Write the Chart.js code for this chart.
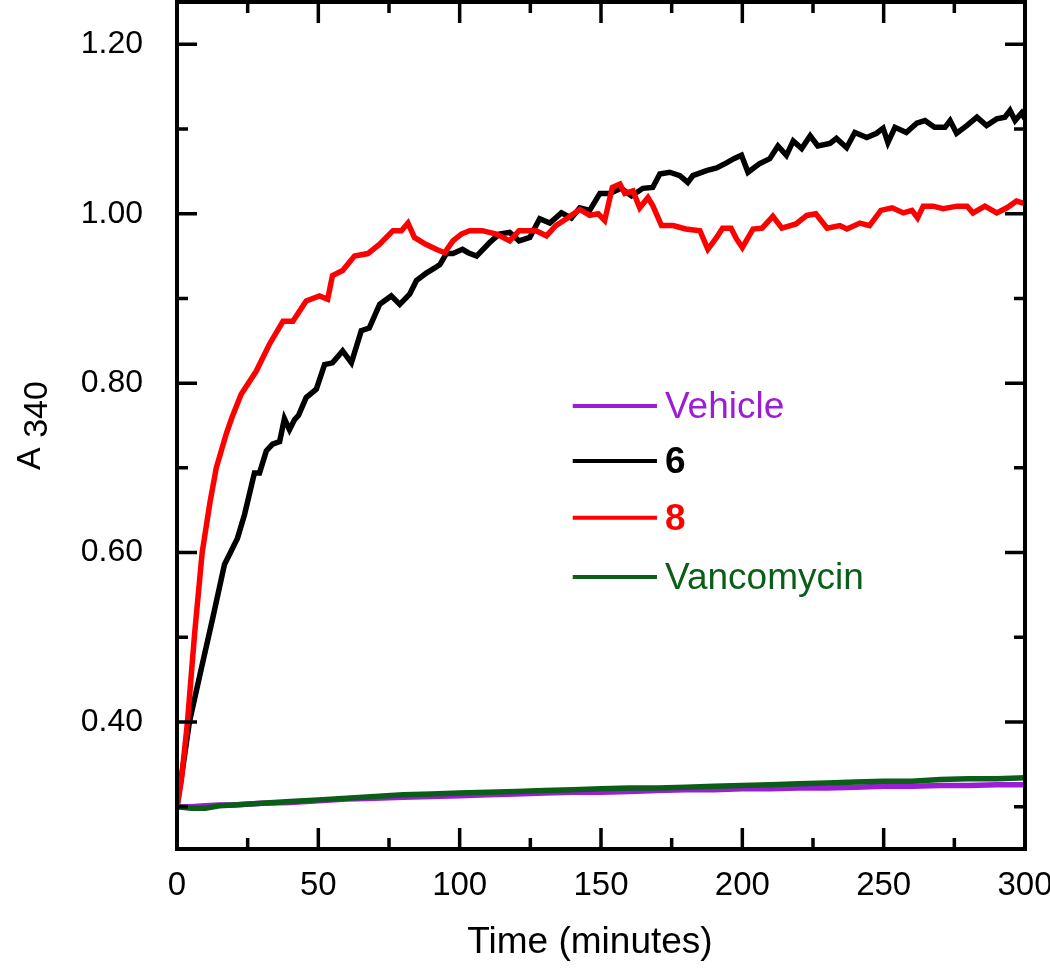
<!DOCTYPE html>
<html>
<head>
<meta charset="utf-8">
<script src="https://cdn.jsdelivr.net/npm/chart.js@4.4.1/dist/chart.umd.min.js"></script>
<style>
    html, body { margin: 0; padding: 0; background: #fff; }
    #wrap { width: 1050px; height: 968px; }
</style>
</head>
<body>
<div id="wrap"><canvas id="chart" width="1050" height="968"></canvas></div>
<script>
// Tick positions
const xMajor = [0, 50, 100, 150, 200, 250, 300];
const xMinor = [25, 75, 125, 175, 225, 275];
const yMajor = [0.40, 0.60, 0.80, 1.00, 1.20];
const yMinor = [0.30, 0.50, 0.70, 0.90, 1.10];

// Series: compound 6 (black)
const time6 = [0, 2, 4.4, 8.6, 12.6, 16.8, 18.6, 21.4, 23.9, 27.4,
    29.2, 31.6, 33.8, 36.3, 38, 39.8, 41.6, 43, 45.7, 49.3,
    52.2, 55, 58.6, 61.7, 65.2, 68, 71.7, 75.8, 78.8, 82.3,
    84.7, 88.2, 91.2, 93, 95.3, 97.6, 101, 103, 106, 110.6,
    114, 117.7, 121, 124.8, 128.3, 131.9, 136, 139.5, 142.5, 146,
    149.6, 153, 157.2, 160.8, 164.8, 168.3, 170.8, 174.3, 177.9, 180.7,
    182.5, 187.3, 190.9, 194.4, 197, 199.7, 202, 206, 209.7, 212.6,
    215.6, 218, 221, 224, 226.7, 231, 233.3, 236.9, 239.8, 244,
    247.5, 249.8, 251.5, 254, 258, 261.7, 264.6, 268, 271.7, 273.5,
    275.8, 279.4, 283, 286.4, 290, 292.9, 294.7, 296.5, 298.8, 300];
const abs6 = [0.300, 0.345, 0.400, 0.463, 0.522, 0.586, 0.598, 0.617, 0.645, 0.694,
    0.694, 0.720, 0.728, 0.731, 0.758, 0.745, 0.757, 0.762, 0.783, 0.793,
    0.822, 0.824, 0.838, 0.824, 0.862, 0.865, 0.893, 0.903, 0.893, 0.905,
    0.921, 0.930, 0.936, 0.940, 0.953, 0.953, 0.958, 0.954, 0.950, 0.966,
    0.976, 0.978, 0.968, 0.972, 0.994, 0.989, 1.001, 0.995, 1.007, 1.004,
    1.024, 1.024, 1.030, 1.021, 1.030, 1.031, 1.047, 1.049, 1.045, 1.037,
    1.045, 1.051, 1.054, 1.060, 1.065, 1.069, 1.049, 1.059, 1.065, 1.080,
    1.069, 1.086, 1.077, 1.092, 1.080, 1.083, 1.089, 1.078, 1.096, 1.090,
    1.095, 1.101, 1.084, 1.102, 1.096, 1.107, 1.110, 1.102, 1.102, 1.110,
    1.095, 1.104, 1.114, 1.104, 1.112, 1.114, 1.122, 1.110, 1.119, 1.112];

// Series: compound 8 (red)
const time8 = [0, 1.5, 3.7, 6.2, 8.9, 11.7, 13.9, 17.4, 19.5, 22.7,
    28, 32.7, 37.5, 41, 45.7, 50.4, 53.3, 55, 58.6, 62.8,
    67.5, 71.7, 76.4, 79.4, 81.7, 84, 88, 91.7, 94.7, 97.6,
    100.6, 103.5, 108, 113, 117.7, 121, 127, 130.7, 134, 137.8,
    142.5, 146, 149, 151.3, 154, 156.7, 158.4, 161.3, 163.7, 166.6,
    168.4, 171.4, 175.5, 180, 185, 187.8, 190.9, 193, 196, 198,
    200, 203.8, 207, 210.8, 214, 219, 222.8, 226, 230, 234.5,
    237, 241.6, 245, 249, 253, 257, 260, 262, 264, 267.5,
    271, 276, 279.5, 281.6, 285.8, 290, 293.6, 297, 300];
const abs8 = [0.300, 0.330, 0.400, 0.503, 0.600, 0.660, 0.700, 0.740, 0.760, 0.787,
    0.814, 0.846, 0.873, 0.873, 0.897, 0.903, 0.899, 0.927, 0.933, 0.950,
    0.953, 0.964, 0.980, 0.980, 0.989, 0.972, 0.964, 0.958, 0.954, 0.968,
    0.976, 0.980, 0.980, 0.976, 0.968, 0.980, 0.980, 0.974, 0.986, 0.994,
    1.005, 0.998, 1.000, 0.992, 1.031, 1.035, 1.024, 1.027, 1.007, 1.019,
    1.009, 0.986, 0.986, 0.982, 0.980, 0.958, 0.972, 0.983, 0.983, 0.970,
    0.960, 0.982, 0.983, 0.997, 0.983, 0.988, 0.998, 1.000, 0.983, 0.986,
    0.982, 0.989, 0.986, 1.004, 1.007, 1.001, 1.004, 0.995, 1.009, 1.009,
    1.006, 1.009, 1.009, 1.001, 1.009, 1.001, 1.007, 1.015, 1.012];

// Series: vehicle and vancomycin (nearly flat)
const timeFlat = [0, 5, 10, 15, 20, 30, 40, 50, 60, 70, 80, 90, 100, 110, 120, 130, 140,
    150, 160, 170, 180, 190, 200, 210, 220, 230, 240, 250, 260, 270, 280, 290, 300];
const absVehicle = [0.300, 0.300, 0.301, 0.302, 0.302, 0.304, 0.305, 0.307, 0.309, 0.310, 0.311,
    0.312, 0.313, 0.314, 0.315, 0.316, 0.317, 0.317, 0.318, 0.319, 0.320, 0.320, 0.321,
    0.321, 0.322, 0.322, 0.323, 0.324, 0.324, 0.325, 0.325, 0.326, 0.326];
const absVanco = [0.300, 0.298, 0.298, 0.301, 0.302, 0.304, 0.306, 0.308, 0.310, 0.312, 0.314,
    0.315, 0.316, 0.317, 0.318, 0.319, 0.320, 0.321, 0.322, 0.322, 0.323, 0.324, 0.325,
    0.326, 0.327, 0.328, 0.329, 0.330, 0.330, 0.332, 0.333, 0.333, 0.334];

const PURPLE = '#9b1ed6';
const GREEN = '#0b5e17';
const RED = '#ff0000';
const BLACK = '#000000';
const FONT = '"Liberation Sans", Arial, Helvetica, sans-serif';

const pts = (xs, ys) => xs.map((x, i) => ({ x: x, y: ys[i] }));

// legend entries, placed in data units inside the plot
const legendItems = [
    { text: 'Vehicle', color: PURPLE, bold: false, y: 0.773 },
    { text: '6', color: BLACK, bold: true, y: 0.708 },
    { text: '8', color: RED, bold: true, y: 0.641 },
    { text: 'Vancomycin', color: GREEN, bold: false, y: 0.571 }
];

const framePlugin = {
    id: 'frame',
    afterDatasetsDraw(chart) {
        const { ctx, chartArea: a, scales: { x, y } } = chart;
        ctx.save();
        ctx.strokeStyle = '#000';
        ctx.lineWidth = 4;
        ctx.strokeRect(a.left, a.top, a.right - a.left, a.bottom - a.top);

        // inward ticks on all four sides
        ctx.lineWidth = 3.5;
        ctx.beginPath();
        const xt = (v, len) => {
            const px = x.getPixelForValue(v);
            ctx.moveTo(px, a.bottom); ctx.lineTo(px, a.bottom - len);
            ctx.moveTo(px, a.top); ctx.lineTo(px, a.top + len);
        };
        const yt = (v, len) => {
            const py = y.getPixelForValue(v);
            ctx.moveTo(a.left, py); ctx.lineTo(a.left + len, py);
            ctx.moveTo(a.right, py); ctx.lineTo(a.right - len, py);
        };
        xMajor.forEach(v => xt(v, 21));
        xMinor.forEach(v => xt(v, 11));
        yMajor.forEach(v => yt(v, 20));
        yMinor.forEach(v => yt(v, 11));
        ctx.stroke();

        // legend
        const lx0 = x.getPixelForValue(140);
        const lx1 = x.getPixelForValue(169.8);
        legendItems.forEach(it => {
            const py = y.getPixelForValue(it.y);
            ctx.strokeStyle = it.color;
            ctx.lineWidth = 4;
            ctx.beginPath();
            ctx.moveTo(lx0, py); ctx.lineTo(lx1, py);
            ctx.stroke();
            ctx.fillStyle = it.color;
            ctx.font = (it.bold ? 'bold ' : '') + '37px ' + FONT;
            ctx.textAlign = 'left';
            ctx.textBaseline = 'middle';
            ctx.fillText(it.text, lx1 + 8, py + 2);
        });

        // axis titles
        ctx.fillStyle = '#000';
        ctx.font = '37px ' + FONT;
        ctx.textAlign = 'center';
        ctx.textBaseline = 'middle';
        ctx.fillText('Time (minutes)', (a.left + a.right) / 2 - 11, 943);

        ctx.save();
        ctx.translate(31, (a.top + a.bottom) / 2);
        ctx.rotate(-Math.PI / 2);
        ctx.textAlign = 'left';
        ctx.textBaseline = 'middle';
        ctx.font = '34px ' + FONT;
        const wA = ctx.measureText('A ').width;
        const w340 = ctx.measureText('340').width;
        const start = -(wA + w340) / 2;
        ctx.fillText('A', start, 0);
        ctx.fillText('340', start + wA, 7);
        ctx.restore();

        ctx.restore();
    }
};

const lineDs = (label, data, color, order) => ({
    label: label,
    data: data,
    borderColor: color,
    backgroundColor: color,
    borderWidth: 5.5,
    pointRadius: 0,
    tension: 0,
    fill: false,
    order: order
});

const noPad = s => {
    s.paddingTop = 0; s.paddingBottom = 0;
    s.paddingLeft = 0; s.paddingRight = 0;
};

new Chart(document.getElementById('chart').getContext('2d'), {
    type: 'line',
    data: {
        datasets: [
            lineDs('Vehicle', pts(timeFlat, absVehicle), PURPLE, 4),
            lineDs('Vancomycin', pts(timeFlat, absVanco), GREEN, 3),
            lineDs('6', pts(time6, abs6), BLACK, 2),
            lineDs('8', pts(time8, abs8), RED, 1)
        ]
    },
    options: {
        responsive: false,
        animation: false,
        layout: { padding: { top: 2, right: 25, left: 0, bottom: 0 } },
        plugins: {
            legend: { display: false },
            tooltip: { enabled: false }
        },
        scales: {
            x: {
                type: 'linear',
                min: 0,
                max: 300,
                grid: { display: false, drawTicks: false },
                border: { display: false },
                afterBuildTicks: s => { s.ticks = xMajor.map(v => ({ value: v })); },
                afterFit: s => { s.height = 119; noPad(s); },
                ticks: {
                    color: '#000',
                    padding: 17,
                    maxRotation: 0,
                    font: { family: FONT, size: 33 }
                }
            },
            y: {
                type: 'linear',
                min: 0.25,
                max: 1.25,
                grid: { display: false, drawTicks: false },
                border: { display: false },
                afterBuildTicks: s => { s.ticks = yMajor.map(v => ({ value: v })); },
                afterFit: s => { s.width = 177; noPad(s); },
                ticks: {
                    color: '#000',
                    padding: 34,
                    font: { family: FONT, size: 32 },
                    callback: v => v.toFixed(2)
                }
            }
        }
    },
    plugins: [framePlugin]
});
</script>
</body>
</html>
